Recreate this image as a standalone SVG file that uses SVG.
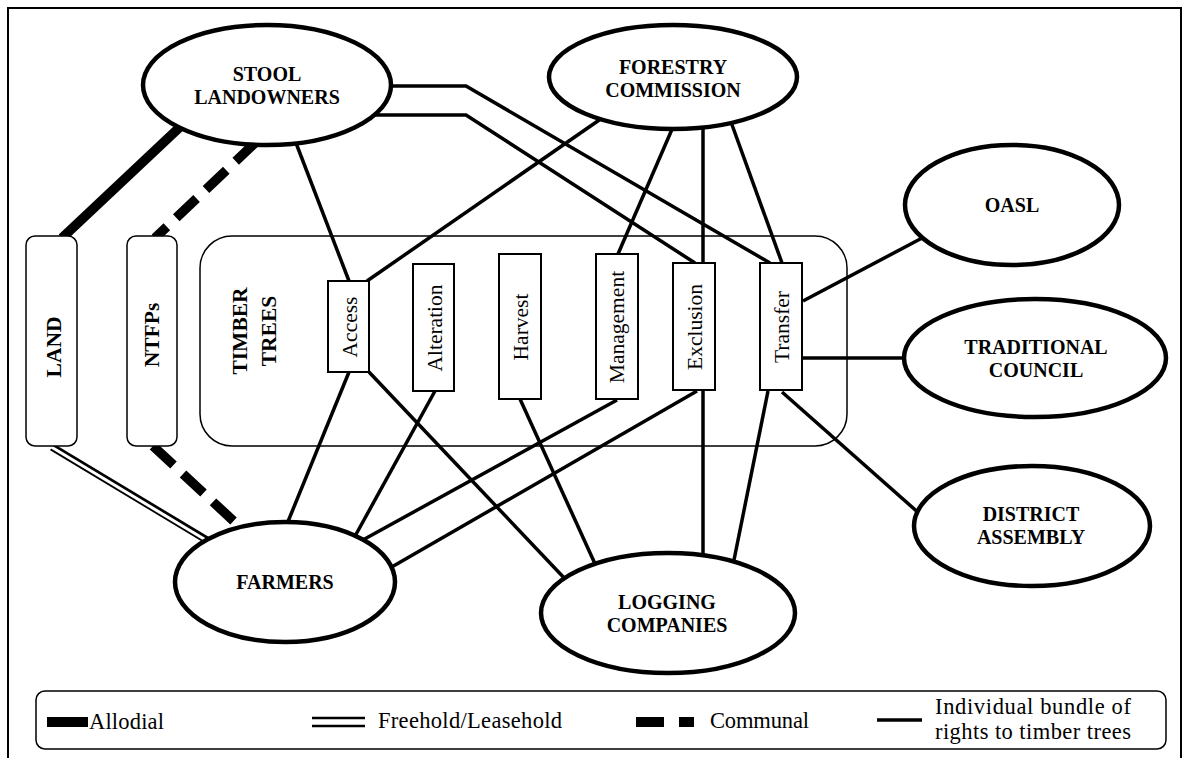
<svg xmlns="http://www.w3.org/2000/svg" width="1189" height="758" viewBox="0 0 1189 758">
<style>
.ell{fill:#fff;stroke:#000;stroke-width:4.5}
.box{fill:#fff;stroke:#000;stroke-width:2}
.rbox{fill:#fff;stroke:#000;stroke-width:1.5}
.ln{fill:none;stroke:#000;stroke-width:3.5;stroke-linecap:butt}
.allod{fill:none;stroke:#000;stroke-width:9.5}
.comm{fill:none;stroke:#000;stroke-width:9.5;stroke-dasharray:28 13}
.dblo{fill:none;stroke:#000;stroke-width:7.5}
.dbli{fill:none;stroke:#fff;stroke-width:3}
.nt{font-family:"Liberation Serif","Times New Roman",serif;font-weight:bold;font-size:20px;text-anchor:middle;fill:#000}
.bt{font-family:"Liberation Serif","Times New Roman",serif;font-size:21.5px;text-anchor:middle;fill:#000}
.btb{font-family:"Liberation Serif","Times New Roman",serif;font-weight:bold;font-size:21.5px;text-anchor:middle;fill:#000}
.lt{font-family:"Liberation Serif","Times New Roman",serif;font-size:22.5px;fill:#000}
</style>
<rect id="frame" x="8" y="8" width="1173" height="770" fill="#fff" stroke="#000" stroke-width="2"/>
<g id="timber-trees">
  <rect class="rbox" x="200" y="236" width="647" height="210" rx="32" ry="32"/>
  <text class="btb" transform="translate(247,331) rotate(-90)">TIMBER</text>
  <text class="btb" transform="translate(276,331) rotate(-90)">TREES</text>
</g>
<g id="connectors">
  <line class="allod" x1="181" y1="126" x2="62" y2="238"/>
  <line class="comm" x1="256" y1="142" x2="155" y2="238"/>
  <line class="comm" x1="153" y1="446" x2="240" y2="527"/>
  <line class="dblo" x1="52" y1="447" x2="210" y2="542"/>
  <line class="dbli" x1="48" y1="445" x2="214" y2="545"/>
  <line class="ln" x1="296" y1="143" x2="349" y2="281"/>
  <polyline class="ln" points="389,86 466,86 770,263"/>
  <polyline class="ln" points="372,115 466,115 695,263"/>
  <line class="ln" x1="605" y1="116" x2="367" y2="281"/>
  <line class="ln" x1="673" y1="127" x2="618" y2="254"/>
  <line class="ln" x1="703" y1="126" x2="703" y2="558"/>
  <line class="ln" x1="731" y1="122" x2="782" y2="263"/>
  <line class="ln" x1="349" y1="372" x2="287" y2="524"/>
  <line class="ln" x1="369" y1="372" x2="568" y2="582"/>
  <line class="ln" x1="435" y1="391" x2="354" y2="538"/>
  <line class="ln" x1="520" y1="399" x2="596" y2="566"/>
  <line class="ln" x1="617" y1="400" x2="361" y2="541"/>
  <line class="ln" x1="697" y1="391" x2="390" y2="568"/>
  <line class="ln" x1="803" y1="301" x2="924" y2="237"/>
  <line class="ln" x1="803" y1="358" x2="906" y2="358"/>
  <line class="ln" x1="782" y1="392" x2="921" y2="515"/>
  <line class="ln" x1="768" y1="391" x2="733" y2="565"/>
</g>
<g id="land">
  <rect class="rbox" x="26" y="236" width="51" height="210" rx="9" ry="9"/>
  <text class="btb" transform="translate(61,347) rotate(-90)">LAND</text>
</g>
<g id="ntfps">
  <rect class="rbox" x="127" y="236" width="50" height="210" rx="9" ry="9"/>
  <text class="btb" transform="translate(159,335) rotate(-90)">NTFPs</text>
</g>
<g id="access">
  <rect class="box" x="328" y="281" width="41" height="91"/>
  <text class="bt" transform="translate(357,327) rotate(-90)">Access</text>
</g>
<g id="alteration">
  <rect class="box" x="413" y="264" width="41" height="127"/>
  <text class="bt" transform="translate(442,328) rotate(-90)">Alteration</text>
</g>
<g id="harvest">
  <rect class="box" x="499" y="254" width="42" height="145"/>
  <text class="bt" transform="translate(528,327) rotate(-90)">Harvest</text>
</g>
<g id="management">
  <rect class="box" x="596" y="254" width="42" height="145"/>
  <text class="bt" transform="translate(624,327) rotate(-90)">Management</text>
</g>
<g id="exclusion">
  <rect class="box" x="673" y="263" width="42" height="127"/>
  <text class="bt" transform="translate(702,327) rotate(-90)">Exclusion</text>
</g>
<g id="transfer">
  <rect class="box" x="760" y="263" width="42" height="127"/>
  <text class="bt" transform="translate(789,327) rotate(-90)">Transfer</text>
</g>
<g id="stool-landowners">
  <ellipse class="ell" cx="267" cy="85" rx="124" ry="60"/>
  <text class="nt" x="267" y="81">STOOL</text>
  <text class="nt" x="267" y="104">LANDOWNERS</text>
</g>
<g id="forestry-commission">
  <ellipse class="ell" cx="673" cy="77" rx="124" ry="52"/>
  <text class="nt" x="673" y="74">FORESTRY</text>
  <text class="nt" x="673" y="97">COMMISSION</text>
</g>
<g id="oasl">
  <ellipse class="ell" cx="1012" cy="205" rx="107" ry="60"/>
  <text class="nt" x="1012" y="212">OASL</text>
</g>
<g id="traditional-council">
  <ellipse class="ell" cx="1035" cy="358" rx="131" ry="59"/>
  <text class="nt" x="1036" y="354">TRADITIONAL</text>
  <text class="nt" x="1036" y="377">COUNCIL</text>
</g>
<g id="district-assembly">
  <ellipse class="ell" cx="1032" cy="526" rx="118" ry="60"/>
  <text class="nt" x="1031" y="521">DISTRICT</text>
  <text class="nt" x="1031" y="544">ASSEMBLY</text>
</g>
<g id="farmers">
  <ellipse class="ell" cx="285" cy="582" rx="110" ry="60"/>
  <text class="nt" x="285" y="589">FARMERS</text>
</g>
<g id="logging-companies">
  <ellipse class="ell" cx="668" cy="613" rx="127" ry="60"/>
  <text class="nt" x="667" y="609">LOGGING</text>
  <text class="nt" x="667" y="632">COMPANIES</text>
</g>
<g id="legend">
  <rect x="36" y="691" width="1130" height="58" rx="9" ry="9" fill="#fff" stroke="#000" stroke-width="1.5"/>
  <rect x="47" y="717" width="41" height="10" fill="#000"/>
  <text class="lt" x="89" y="729" textLength="75" lengthAdjust="spacing">Allodial</text>
  <line x1="312" y1="718" x2="365" y2="718" stroke="#000" stroke-width="2.5"/>
  <line x1="312" y1="726" x2="365" y2="726" stroke="#000" stroke-width="2.5"/>
  <text class="lt" x="378" y="728" textLength="184" lengthAdjust="spacing">Freehold/Leasehold</text>
  <rect x="636" y="717" width="28" height="10" fill="#000"/>
  <rect x="679" y="717" width="15" height="10" fill="#000"/>
  <text class="lt" x="710" y="728" textLength="99" lengthAdjust="spacing">Communal</text>
  <line x1="877" y1="720" x2="922" y2="720" stroke="#000" stroke-width="3.5"/>
  <text class="lt" x="935" y="714" textLength="196" lengthAdjust="spacing">Individual bundle of</text>
  <text class="lt" x="935" y="739" textLength="196" lengthAdjust="spacing">rights to timber trees</text>
</g>
</svg>
